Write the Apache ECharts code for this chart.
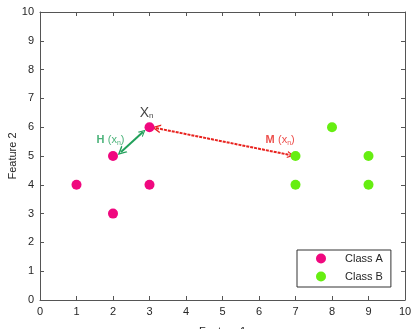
<!DOCTYPE html>
<html><head><meta charset="utf-8">
<script src="https://cdn.jsdelivr.net/npm/echarts@6/dist/echarts.min.js"></script>
<style>html,body{margin:0;padding:0;background:#fff}#c{width:412px;height:329px}</style>
</head><body><div id="c"></div>
<script>
const xTicks = [0,1,2,3,4,5,6,7,8,9,10];
const yTicks = [0,1,2,3,4,5,6,7,8,9,10];
const classA = [[1,4],[2,5],[2,3],[3,6],[3,4]];
const classB = [[7,5],[7,4],[8,6],[9,5],[9,4]];
const hArrow = [[2.22,5.14],[2.82,5.83]];
const mArrow = [[3.18,5.97],[6.87,5.03]];
const labelXn = [2.92, 6.5];
const labelH = [1.93, 5.55];
const labelM = [6.58, 5.55];

const pink = '#f0087f';
const green = '#66ee11';
const chev = 'path://M0,10 L5,0 L10,10 L8.3,10 L5,3.4 L1.7,10 Z';
const axisCol = '#555';
const font = 'Liberation Sans, Arial, sans-serif';

const chart = echarts.init(document.getElementById('c'));
const baseAxis = {
  min: 0, max: 10, interval: 1,
  axisLine: {show: true, onZero: false, lineStyle: {color: axisCol, width: 1}},
  axisTick: {show: true, inside: true, length: 4, lineStyle: {color: axisCol}},
  splitLine: {show: false},
  axisLabel: {color: '#262626', fontSize: 11, fontFamily: font},
};
chart.setOption({
  animation: false,
  grid: {left: 40, right: 7, top: 12, bottom: 29, containLabel: false, outerBoundsMode: 'none'},
  xAxis: [
    Object.assign({}, baseAxis, {type: 'value', position: 'bottom', name: 'Feature 1', nameLocation: 'middle', nameGap: 26, nameMoveOverlap: false,
      nameTextStyle: {color: '#262626', fontSize: 11, fontFamily: font},
      axisLabel: Object.assign({}, baseAxis.axisLabel, {margin: 6})}),
    Object.assign({}, baseAxis, {type: 'value', position: 'top', axisLabel: {show: false}})
  ],
  yAxis: [
    Object.assign({}, baseAxis, {type: 'value', position: 'left', name: 'Feature 2', nameLocation: 'middle', nameGap: 22, nameMoveOverlap: false,
      nameTextStyle: {color: '#262626', fontSize: 11, fontFamily: font},
      axisLabel: Object.assign({}, baseAxis.axisLabel, {margin: 6})}),
    Object.assign({}, baseAxis, {type: 'value', position: 'right', axisLabel: {show: false}})
  ],
  legend: {
    orient: 'vertical', left: 297, top: 250, width: 88,
    backgroundColor: '#fff', borderColor: '#333', borderWidth: 1,
    padding: [3, 8, 5, 19], itemGap: 7, itemWidth: 10, itemHeight: 10,
    textStyle: {color: '#262626', fontSize: 11, fontFamily: font, padding: [0, 0, 0, 14]},
    data: [{name: 'Class A', icon: 'circle'}, {name: 'Class B', icon: 'circle'}]
  },
  series: [
    {name: 'Class A', type: 'scatter', data: classA, symbolSize: 10, itemStyle: {color: pink, opacity: 1}, z: 5},
    {name: 'Class B', type: 'scatter', data: classB, symbolSize: 10, itemStyle: {color: green, opacity: 1}, z: 5},
    {type: 'lines', coordinateSystem: 'cartesian2d', silent: true, z: 4,
      symbol: [chev, chev], symbolSize: [9, 7],
      data: [{coords: hArrow, lineStyle: {color: '#21a05a', width: 2, type: 'solid', opacity: 1}},
             {coords: mArrow, lineStyle: {color: '#e8231f', width: 2, type: [3, 1], opacity: 1}}]},
    {type: 'scatter', symbolSize: 0, silent: true, z: 6,
      data: [
        {value: labelXn, label: {show: true, position: 'inside', formatter: '{a|X}{s|n}',
          rich: {a: {fontSize: 14, color: '#111', fontFamily: font}, s: {fontSize: 8, color: '#111', fontFamily: font, padding: [6,0,0,0]}}}},
        {value: labelH, label: {show: true, position: 'inside', formatter: '{b|H} {p|(x}{s|n}{p|)}',
          rich: {b: {fontSize: 11, fontWeight: 'bold', color: '#21a05a', fontFamily: font},
                 p: {fontSize: 11, color: '#21a05a', fontFamily: font},
                 s: {fontSize: 7, color: '#21a05a', fontFamily: font, padding: [5,0,0,0]}}}},
        {value: labelM, label: {show: true, position: 'inside', formatter: '{b|M} {p|(x}{s|n}{p|)}',
          rich: {b: {fontSize: 11, fontWeight: 'bold', color: '#e8231f', fontFamily: font},
                 p: {fontSize: 11, color: '#e8231f', fontFamily: font},
                 s: {fontSize: 7, color: '#e8231f', fontFamily: font, padding: [5,0,0,0]}}}}
      ]}
  ]
});
</script></body></html>
